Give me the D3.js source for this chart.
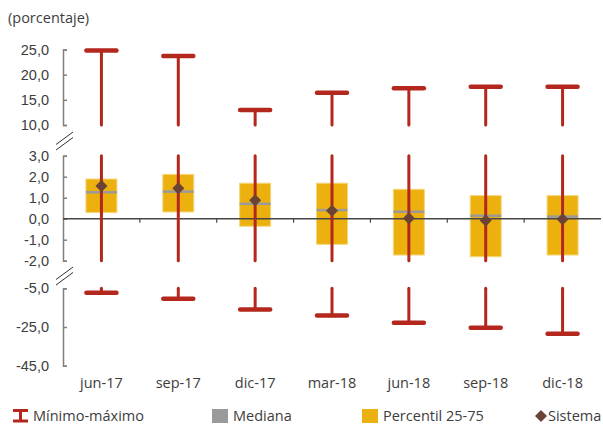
<!DOCTYPE html>
<html><head><meta charset="utf-8">
<script src="https://cdn.jsdelivr.net/npm/d3@7"></script>
<style>
html,body{margin:0;padding:0;background:#fff;}
svg{display:block;font-family:"Open Sans",sans-serif;}
</style></head><body>
<svg id="c" width="603" height="427"></svg>
<script>
const categories = ["jun-17","sep-17","dic-17","mar-18","jun-18","sep-18","dic-18"];
const maximo  = [24.8, 23.7, 13.0, 16.4, 17.3, 17.6, 17.6];
const minimo  = [-7.3, -10.4, -15.9, -19.0, -22.8, -25.4, -28.5];
const p25     = [0.29, 0.32, -0.36, -1.22, -1.73, -1.81, -1.73];
const p75     = [1.89, 2.11, 1.69, 1.69, 1.40, 1.10, 1.10];
const mediana = [1.26, 1.29, 0.71, 0.41, 0.33, 0.14, 0.10];
const sistema = [1.56, 1.45, 0.88, 0.38, 0.02, -0.08, -0.03];

const topDomain = [10, 25], topTicks = [10, 15, 20, 25];
const midDomain = [-2, 3], midTicks = [-2, -1, 0, 1, 2, 3];
const botDomain = [-45, -5], botTicks = [-45, -25, -5];

const legendLabels = ["Mínimo-máximo", "Mediana", "Percentil 25-75", "Sistema"];

const RED = "#B3271C", YEL = "#ECB10F", GRAY = "#9A9A9A", BROWN = "#6B4335", TXT = "#3d3d3d";

const loc = d3.formatLocale({decimal: ",", thousands: ".", grouping: [3], currency: ["", "€"], minus: "-"});
const fmt = loc.format(".1f");

const svg = d3.select("#c");
const x0 = 63, x1 = 601;
const x = d3.scaleBand().domain(categories).range([x0, x1]).padding(0);
const cx = c => x(c) + x.bandwidth() / 2;

const yTop = d3.scaleLinear().domain(topDomain).range([125, 49.5]);
const yMid = d3.scaleLinear().domain(midDomain).range([260.7, 155.7]);
const yBot = d3.scaleLinear().domain(botDomain).range([365.7, 288.3]);

function drawAxis(scale, ticks) {
  const g = svg.append("g").attr("transform", `translate(${x0},0)`)
    .call(d3.axisLeft(scale).tickValues(ticks).tickFormat(fmt).tickSizeInner(-4).tickSizeOuter(-4).tickPadding(14));
  g.select(".domain").attr("stroke", "#808080").attr("stroke-width", 1.5);
  g.selectAll(".tick line").attr("stroke", "#808080").attr("stroke-width", 1.5);
  g.selectAll(".tick text").attr("fill", TXT).style("font-size", "14.5px");
}
drawAxis(yTop, topTicks);
drawAxis(yMid, midTicks);
drawAxis(yBot, botTicks);

function brk(yLow) {
  for (const off of [0, 5.5]) {
    svg.append("line").attr("x1", 56).attr("y1", yLow + off).attr("x2", 73).attr("y2", yLow + off - 12.5)
      .attr("stroke", "#333").attr("stroke-width", 1);
  }
}
brk(144.5);
brk(279.5);

const bw = 31, capW = 34;
const rows = categories.map((c, i) => ({c, max: maximo[i], min: minimo[i], p25: p25[i], p75: p75[i], med: mediana[i], sis: sistema[i]}));

svg.append("g").selectAll("rect").data(rows).join("rect")
  .attr("x", d => cx(d.c) - bw / 2).attr("width", bw)
  .attr("y", d => yMid(d.p75)).attr("height", d => yMid(d.p25) - yMid(d.p75))
  .attr("fill", YEL).attr("stroke", "#F6D77C").attr("stroke-width", 1);

svg.append("g").selectAll("line").data(rows).join("line")
  .attr("x1", d => cx(d.c) - bw / 2).attr("x2", d => cx(d.c) + bw / 2)
  .attr("y1", d => yMid(d.med)).attr("y2", d => yMid(d.med))
  .attr("stroke", GRAY).attr("stroke-width", 2.5);

svg.append("line").attr("x1", x0).attr("x2", x1).attr("y1", yMid(0)).attr("y2", yMid(0))
  .attr("stroke", "#454545").attr("stroke-width", 1.5);
svg.append("g").selectAll("line").data(categories.slice(1)).join("line")
  .attr("x1", d => x(d)).attr("x2", d => x(d)).attr("y1", yMid(0)).attr("y2", yMid(0) + 4)
  .attr("stroke", "#454545").attr("stroke-width", 1.2);

const stems = svg.append("g").attr("stroke", RED).attr("stroke-linecap", "round");
rows.forEach(d => {
  const X = cx(d.c);
  stems.append("line").attr("x1", X).attr("x2", X).attr("y1", yTop(d.max)).attr("y2", yTop(topDomain[0])).attr("stroke-width", 3);
  stems.append("line").attr("x1", X - capW / 2 + 2).attr("x2", X + capW / 2 - 2).attr("y1", yTop(d.max)).attr("y2", yTop(d.max)).attr("stroke-width", 4.5);
  stems.append("line").attr("x1", X).attr("x2", X).attr("y1", yMid(Math.min(d.max, midDomain[1]))).attr("y2", yMid(Math.max(d.min, midDomain[0]))).attr("stroke-width", 3);
  stems.append("line").attr("x1", X).attr("x2", X).attr("y1", yBot(botDomain[1])).attr("y2", yBot(d.min)).attr("stroke-width", 3);
  stems.append("line").attr("x1", X - capW / 2 + 2).attr("x2", X + capW / 2 - 2).attr("y1", yBot(d.min)).attr("y2", yBot(d.min)).attr("stroke-width", 4.5);
});

const diamond = r => `M0,${-r}L${r},0L0,${r}L${-r},0Z`;
svg.append("g").selectAll("path").data(rows).join("path")
  .attr("d", diamond(6)).attr("transform", d => `translate(${cx(d.c)},${yMid(d.sis)})`).attr("fill", BROWN);

svg.append("g").selectAll("text").data(categories).join("text")
  .attr("x", d => cx(d)).attr("y", 388).attr("text-anchor", "middle")
  .attr("fill", TXT).style("font-size", "14.5px").text(d => d);

svg.append("text").attr("x", 8).attr("y", 23).attr("fill", TXT).style("font-size", "14.5px").text("(porcentaje)");

const lg = svg.append("g").style("font-size", "14.5px").attr("fill", TXT);
lg.append("line").attr("x1", 13).attr("x2", 28).attr("y1", 410.5).attr("y2", 410.5).attr("stroke", RED).attr("stroke-width", 3);
lg.append("line").attr("x1", 13).attr("x2", 28).attr("y1", 421).attr("y2", 421).attr("stroke", RED).attr("stroke-width", 3);
lg.append("line").attr("x1", 20.5).attr("x2", 20.5).attr("y1", 410.5).attr("y2", 421).attr("stroke", RED).attr("stroke-width", 3);
lg.append("text").attr("x", 33).attr("y", 421).text(legendLabels[0]);
lg.append("rect").attr("x", 212).attr("y", 409).attr("width", 16).attr("height", 14).attr("fill", GRAY);
lg.append("text").attr("x", 233).attr("y", 421).text(legendLabels[1]);
lg.append("rect").attr("x", 362).attr("y", 409).attr("width", 16).attr("height", 14).attr("fill", YEL);
lg.append("text").attr("x", 383).attr("y", 421).text(legendLabels[2]);
lg.append("path").attr("d", diamond(6)).attr("transform", "translate(541,416)").attr("fill", BROWN);
lg.append("text").attr("x", 548).attr("y", 421).text(legendLabels[3]);
</script>
</body></html>
